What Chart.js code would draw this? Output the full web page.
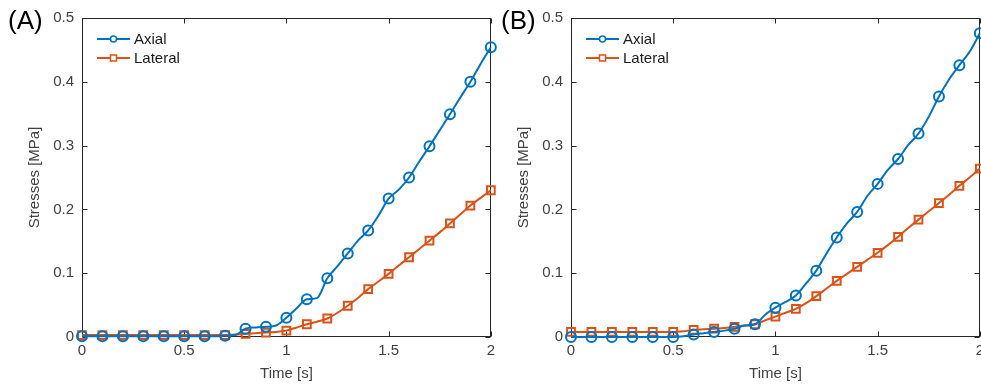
<!DOCTYPE html>
<html>
<head>
<meta charset="utf-8">
<title>Stresses</title>
<script src="https://cdn.jsdelivr.net/npm/chart.js@4.4.1/dist/chart.umd.min.js"></script>
<style>
  html, body { margin: 0; padding: 0; background: #fff; overflow: hidden; }
  #wrap { position: relative; width: 981px; height: 386px; overflow: hidden; }
  #wrap canvas { position: absolute; top: 0; }
  #panelA { left: 0; }
  #panelB { left: 489px; }
</style>
</head>
<body>
<div id="wrap">
  <canvas id="panelA" width="500" height="386"></canvas>
  <canvas id="panelB" width="500" height="386"></canvas>
</div>
<script>
// sample times [s]
const times = [0, 0.05, 0.1, 0.15, 0.2, 0.25, 0.3, 0.35, 0.4, 0.45,
  0.5, 0.55, 0.6, 0.65, 0.7, 0.75, 0.8, 0.85, 0.9, 0.95,
  1, 1.05, 1.1, 1.15, 1.2, 1.25, 1.3, 1.35, 1.4, 1.45,
  1.5, 1.55, 1.6, 1.65, 1.7, 1.75, 1.8, 1.85, 1.9, 1.95, 2];

// stresses [MPa], case A
const axialA = [0.001, 0.001, 0.001, 0.001, 0.001, 0.001, 0.001, 0.001, 0.001, 0.001,
  0.001, 0.001, 0.001, 0.001, 0.002, 0.003, 0.013, 0.015, 0.016, 0.018,
  0.030, 0.045, 0.059, 0.061, 0.092, 0.111, 0.131, 0.151, 0.167, 0.190,
  0.217, 0.231, 0.250, 0.275, 0.299, 0.324, 0.349, 0.375, 0.400, 0.428, 0.454];
const lateralA = [0.003, 0.003, 0.003, 0.003, 0.003, 0.003, 0.003, 0.003, 0.003, 0.003,
  0.003, 0.003, 0.003, 0.003, 0.003, 0.004, 0.005, 0.006, 0.007, 0.008,
  0.010, 0.015, 0.020, 0.024, 0.029, 0.038, 0.049, 0.061, 0.075, 0.087,
  0.099, 0.112, 0.125, 0.138, 0.151, 0.164, 0.178, 0.192, 0.206, 0.218, 0.230];

// stresses [MPa], case B
const axialB = [0, 0, 0, 0, 0, 0, 0, 0, 0, 0,
  0, 0.001, 0.004, 0.006, 0.008, 0.010, 0.013, 0.018, 0.020, 0.035,
  0.046, 0.055, 0.065, 0.084, 0.104, 0.131, 0.156, 0.178, 0.196, 0.221,
  0.240, 0.262, 0.279, 0.301, 0.319, 0.345, 0.377, 0.404, 0.426, 0.447, 0.476];
const lateralB = [0.008, 0.008, 0.008, 0.008, 0.008, 0.008, 0.008, 0.008, 0.008, 0.008,
  0.008, 0.009, 0.011, 0.012, 0.013, 0.014, 0.016, 0.018, 0.020, 0.026,
  0.032, 0.038, 0.044, 0.053, 0.064, 0.076, 0.088, 0.099, 0.110, 0.121,
  0.132, 0.144, 0.157, 0.171, 0.184, 0.197, 0.210, 0.223, 0.237, 0.250, 0.264];

const timeTicks = [0, 0.5, 1, 1.5, 2];
const stressTicks = [0, 0.1, 0.2, 0.3, 0.4, 0.5];

const BLUE = '#0072BD';
const ORANGE = '#D95319';
const AXIS = '#262626';
const TEXT = '#404040';
const FONT = '"Liberation Sans", Arial, Helvetica, sans-serif';

// MATLAB-like box with inward ticks on all four sides
const framePlugin = {
  id: 'frame',
  beforeDatasetsDraw(chart) {
    const { ctx, chartArea: a, scales: { x, y } } = chart;
    const len = 5;
    ctx.save();
    ctx.strokeStyle = AXIS;
    ctx.lineWidth = 1;
    const L = Math.round(a.left) + 0.5, R = Math.round(a.right) - 0.5;
    const T = Math.round(a.top) + 0.5, B = Math.round(a.bottom) - 0.5;
    ctx.strokeRect(L, T, R - L, B - T);
    ctx.beginPath();
    timeTicks.forEach(v => {
      const px = Math.round(x.getPixelForValue(v)) + 0.5;
      ctx.moveTo(px, B); ctx.lineTo(px, B - len);
      ctx.moveTo(px, T); ctx.lineTo(px, T + len);
    });
    stressTicks.forEach(v => {
      const py = Math.round(y.getPixelForValue(v)) + 0.5;
      ctx.moveTo(L, py); ctx.lineTo(L + len, py);
      ctx.moveTo(R, py); ctx.lineTo(R - len, py);
    });
    ctx.stroke();
    ctx.restore();
  }
};

// legend in the upper left corner of the plot, line + marker + label
const cornerLegend = {
  id: 'cornerLegend',
  afterDraw(chart) {
    const { ctx, chartArea: a } = chart;
    ctx.save();
    chart.data.datasets.forEach((ds, i) => {
      const x0 = a.left + 15, x1 = x0 + 33, cx = (x0 + x1) / 2;
      const cy = a.top + 21 + i * 19;
      ctx.strokeStyle = ds.borderColor;
      ctx.lineWidth = 2;
      ctx.beginPath();
      ctx.moveTo(x0, cy); ctx.lineTo(x1, cy);
      ctx.stroke();
      ctx.lineWidth = 1.5;
      ctx.beginPath();
      if (ds.pointStyle === 'rect') {
        ctx.rect(cx - 3, cy - 3, 6, 6);
      } else {
        ctx.arc(cx, cy, 3, 0, Math.PI * 2);
      }
      ctx.fillStyle = '#fff';
      ctx.fill();
      ctx.stroke();
      ctx.fillStyle = '#1a1a1a';
      ctx.font = '15px ' + FONT;
      ctx.textBaseline = 'middle';
      ctx.fillText(ds.label, x1 + 4, cy + 1);
    });
    ctx.restore();
  }
};

// panel letter in the top left corner
const tagPlugin = {
  id: 'tag',
  afterDraw(chart, args, opts) {
    const ctx = chart.ctx;
    ctx.save();
    ctx.fillStyle = '#000';
    ctx.font = '26px ' + FONT;
    ctx.textBaseline = 'alphabetic';
    ctx.fillText(opts.text, opts.x, 29);
    ctx.restore();
  }
};

function points(values) {
  return times.map((t, i) => ({ x: t, y: values[i] }));
}

// markers only every 0.1 s
function markerEvery(r) {
  return c => (c.dataIndex % 2 === 0 ? r : 0);
}

function makePanel(id, tag, tagX, axial, lateral) {
  const ctx = document.getElementById(id).getContext('2d');
  return new Chart(ctx, {
    type: 'line',
    data: {
      datasets: [{
        label: 'Axial',
        data: points(axial),
        borderColor: BLUE,
        backgroundColor: 'rgba(0,0,0,0)',
        borderWidth: 2,
        pointStyle: 'circle',
        pointRadius: markerEvery(5),
        pointBorderWidth: 2,
        pointBorderColor: BLUE,
        pointBackgroundColor: 'rgba(0,0,0,0)',
        cubicInterpolationMode: 'monotone',
        clip: false
      }, {
        label: 'Lateral',
        data: points(lateral),
        borderColor: ORANGE,
        backgroundColor: 'rgba(0,0,0,0)',
        borderWidth: 2,
        pointStyle: 'rect',
        pointRadius: markerEvery(5.5),
        pointBorderWidth: 2,
        pointBorderColor: ORANGE,
        pointBackgroundColor: 'rgba(0,0,0,0)',
        cubicInterpolationMode: 'monotone',
        clip: false
      }]
    },
    options: {
      responsive: false,
      animation: false,
      events: [],
      layout: { padding: { top: 18, right: 0, bottom: 0, left: 0 } },
      plugins: {
        legend: { display: false },
        tooltip: { enabled: false },
        tag: { text: tag, x: tagX }
      },
      scales: {
        x: {
          type: 'linear',
          min: 0,
          max: 2,
          afterBuildTicks: s => { s.ticks = timeTicks.map(v => ({ value: v })); },
          afterFit: s => { s.height = 49; },
          grid: { display: false, drawTicks: false },
          border: { display: false },
          ticks: {
            color: TEXT,
            font: { family: FONT, size: 15 },
            padding: 5,
            maxRotation: 0,
            autoSkip: false,
            callback: v => String(v)
          },
          title: {
            display: true,
            text: 'Time [s]',
            color: TEXT,
            font: { family: FONT, size: 15 },
            padding: { top: 0, bottom: 3 }
          }
        },
        y: {
          type: 'linear',
          min: 0,
          max: 0.5,
          afterBuildTicks: s => { s.ticks = stressTicks.map(v => ({ value: v })); },
          afterFit: s => { s.width = 82; },
          grid: { display: false, drawTicks: false },
          border: { display: false },
          ticks: {
            color: TEXT,
            font: { family: FONT, size: 15 },
            padding: 8,
            autoSkip: false,
            callback: v => String(v)
          },
          title: {
            display: true,
            text: 'Stresses [MPa]',
            color: TEXT,
            font: { family: FONT, size: 15 },
            padding: { top: 26, bottom: 0 }
          }
        }
      }
    },
    plugins: [framePlugin, cornerLegend, tagPlugin]
  });
}

makePanel('panelA', '(A)', 8, axialA, lateralA);
makePanel('panelB', '(B)', 12, axialB, lateralB);
</script>
</body>
</html>
